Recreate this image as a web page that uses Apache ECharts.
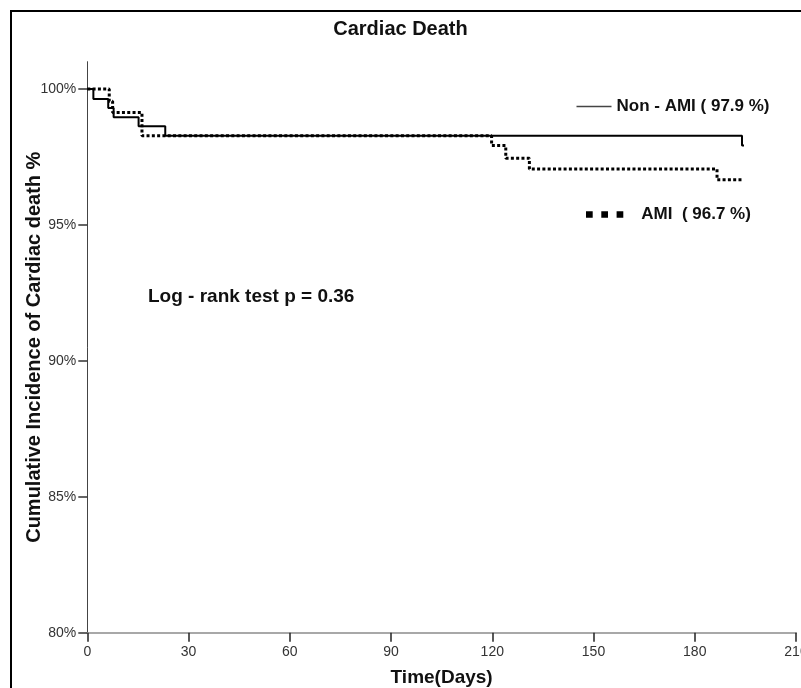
<!DOCTYPE html>
<html>
<head>
<meta charset="utf-8">
<script src="https://cdn.jsdelivr.net/npm/echarts@6/dist/echarts.min.js"></script>
<style>
  html, body { margin: 0; padding: 0; background: #fff; }
  #chart { width: 801px; height: 688px; }
</style>
</head>
<body>
<div id="chart"></div>
<script>
// Kaplan-Meier steps (days, cumulative %)
const nonAmiDays = [0, 1.8, 6.2, 7.8, 15.2, 23.1, 194, 194.6]
const nonAmiPct = [100, 99.63, 99.3, 98.96, 98.63, 98.28, 97.92, 97.92]
const amiDays = [0, 6.5, 7.5, 16.2, 119.8, 124, 131, 186.6, 194.4]
const amiPct = [100, 99.55, 99.13, 98.28, 97.92, 97.45, 97.05, 96.66, 96.66]

const nonAmiName = 'Non - AMI ( 97.9 %)'
const amiName = 'AMI  ( 96.7 %)'
const yTicks = [80, 85, 90, 95, 100]

const font = "'Liberation Sans', Arial, sans-serif"

const chart = echarts.init(document.getElementById('chart'), null, {
  renderer: 'canvas',
  width: 801,
  height: 688,
})

const toPoints = (xs, ys) => xs.map((x, i) => [x, ys[i]])

const option = {
  animation: false,
  backgroundColor: '#fff',
  title: {
    text: 'Cardiac Death',
    left: 'center',
    top: 19,
    padding: 0,
    textStyle: { fontFamily: font, fontSize: 20, fontWeight: 'bold', color: '#111' },
  },
  grid: { left: 87.3, right: 5, top: 61.7, bottom: 55.3, outerBoundsMode: 'none', containLabel: false },
  legend: [
    {
      data: [nonAmiName],
      left: 576.5,
      top: 98,
      padding: 0,
      selectedMode: false,
      icon: 'rect',
      itemWidth: 35,
      itemHeight: 1.3,
      itemStyle: { color: '#444', borderWidth: 0 },
      textStyle: { fontFamily: font, fontSize: 17, fontWeight: 'bold', color: '#111' },
    },
    {
      data: [amiName],
      left: 586,
      top: 206,
      padding: 0,
      selectedMode: false,
      icon: 'path://M0,0h6.7v6.7h-6.7z M15.3,0h6.7v6.7h-6.7z M30.6,0h6.7v6.7h-6.7z',
      itemWidth: 37.3,
      itemHeight: 6.7,
      itemStyle: { color: '#000', borderWidth: 0 },
      textStyle: {
        fontFamily: font, fontSize: 17, fontWeight: 'bold', color: '#111',
        padding: [0, 0, 0, 13],
      },
    },
  ],
  xAxis: {
    type: 'value',
    min: 0,
    max: 210,
    interval: 30,
    name: 'Time(Days)',
    nameLocation: 'middle',
    nameGap: 36,
    nameMoveOverlap: false,
    nameTextStyle: { fontFamily: font, fontSize: 19, fontWeight: 'bold', color: '#111' },
    axisLine: { show: true, onZero: false, lineStyle: { color: '#a8a8a8', width: 2 } },
    axisTick: { show: true, length: 9, lineStyle: { color: '#222', width: 1.5 } },
    axisLabel: { fontFamily: font, fontSize: 14, color: '#333', margin: 12, hideOverlap: false },
    splitLine: { show: false },
  },
  yAxis: {
    type: 'value',
    min: 80,
    max: 101,
    name: 'Cumulative Incidence of Cardiac death %',
    nameLocation: 'middle',
    nameRotate: 90,
    nameGap: 43,
    nameMoveOverlap: false,
    nameTextStyle: { fontFamily: font, fontSize: 20, fontWeight: 'bold', color: '#111' },
    axisLine: { show: true, lineStyle: { color: '#444', width: 1 } },
    axisTick: { show: true, length: 9, customValues: yTicks, lineStyle: { color: '#333', width: 1.5 } },
    axisLabel: {
      fontFamily: font, fontSize: 14, color: '#333', margin: 11,
      customValues: yTicks,
      formatter: '{value}%',
    },
    splitLine: { show: false },
  },
  graphic: [
    {
      type: 'polyline',
      shape: { points: [[11, 688], [11, 11], [801, 11]] },
      style: { stroke: '#000', lineWidth: 2, fill: null },
      silent: true,
    },
    {
      type: 'text',
      left: 148,
      top: 287,
      style: {
        text: 'Log - rank test p = 0.36',
        font: 'bold 19px ' + font,
        fill: '#111',
      },
      silent: true,
    },
  ],
  series: [
    {
      name: nonAmiName,
      type: 'line',
      step: 'end',
      symbol: 'none',
      color: '#000',
      lineStyle: { color: '#000', width: 2 },
      data: toPoints(nonAmiDays, nonAmiPct),
      silent: true,
    },
    {
      name: amiName,
      type: 'line',
      step: 'end',
      symbol: 'none',
      color: '#000',
      lineStyle: { color: '#000', width: 3, type: [3, 2.3] },
      data: toPoints(amiDays, amiPct),
      silent: true,
    },
  ],
}

chart.setOption(option)
</script>
</body>
</html>
